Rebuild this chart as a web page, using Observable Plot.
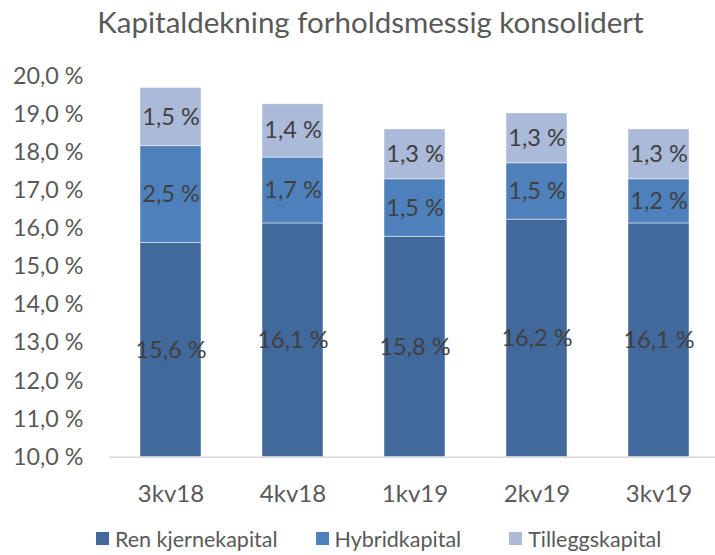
<!DOCTYPE html>
<html>
<head>
<meta charset="utf-8">
<script src="https://cdn.jsdelivr.net/npm/d3@7"></script>
<script src="https://cdn.jsdelivr.net/npm/@observablehq/plot@0.6"></script>
<style>
  html, body { margin: 0; padding: 0; background: #fff; }
  #wrap { width: 715px; height: 555px; overflow: hidden; font-family: Lato, "Open Sans", sans-serif; }
  #title { height: 48px; line-height: 44px; text-align: center; font-size: 29.5px; color: #595959; white-space: nowrap; padding-left: 26px; box-sizing: border-box; }
  #legend { height: 47px; display: flex; align-items: center; font-size: 21.5px; line-height: 24px; color: #595959; padding-left: 96px; padding-top: 14px; box-sizing: border-box; }
  .item { display: flex; align-items: center; }
  .sw { width: 13px; height: 13px; margin-right: 6px; }
</style>
</head>
<body>
<div id="wrap">
  <div id="title">Kapitaldekning forholdsmessig konsolidert</div>
  <div id="chart"></div>
  <div id="legend"></div>
</div>
<script>
const quarters = ["3kv18", "4kv18", "1kv19", "2kv19", "3kv19"];
const series = ["Ren kjernekapital", "Hybridkapital", "Tilleggskapital"];
const renKjernekapital = [15.63, 16.14, 15.79, 16.24, 16.14];
const hybridkapital = [2.54, 1.73, 1.51, 1.48, 1.16];
const tilleggskapital = [1.53, 1.40, 1.31, 1.31, 1.31];
const colors = ["#41699b", "#4e80bc", "#aabad8"];
const yTicks = [10, 11, 12, 13, 14, 15, 16, 17, 18, 19, 20];
const yMin = 10;

const fmt = v => v.toFixed(1).replace(".", ",") + " %";

const rows = [];
quarters.forEach((q, i) => {
  const r = renKjernekapital[i], h = hybridkapital[i], t = tilleggskapital[i];
  rows.push({q, s: series[0], y1: yMin, y2: r, label: fmt(r)});
  rows.push({q, s: series[1], y1: r, y2: r + h, label: fmt(h)});
  rows.push({q, s: series[2], y1: r + h, y2: r + h + t, label: fmt(t)});
});

const chart = Plot.plot({
  width: 715,
  height: 460,
  marginLeft: 109,
  marginRight: 0,
  marginTop: 28,
  marginBottom: 51.3,
  style: {fontFamily: "Lato, 'Open Sans', sans-serif", background: "#fff"},
  x: {domain: quarters, range: [109, 719.5], paddingInner: 0.5, paddingOuter: 0.25, label: null},
  y: {domain: [10, 20], label: null},
  color: {domain: series, range: colors},
  marks: [
    Plot.axisY({ticks: yTicks, tickFormat: fmt, tickSize: 0, tickPadding: 26, fontSize: 23.3, fill: "#595959", anchor: "left"}),
    Plot.axisX({tickSize: 0, tickPadding: 28, fontSize: 24, fill: "#595959"}),
    Plot.barY(rows, {x: "q", y1: "y1", y2: "y2", fill: "s", stroke: "#ffffff", strokeWidth: 0.8, strokeOpacity: 0.6}),
    Plot.ruleY([yMin], {stroke: "#d9d9d9", strokeWidth: 1.5}),
    Plot.text(rows, {x: "q", y: d => (d.y1 + d.y2) / 2, text: "label", fill: "#404040", fontSize: 23.5})
  ]
});
document.getElementById("chart").appendChild(chart);

const legend = document.getElementById("legend");
const gaps = [0, 38, 48];
series.forEach((s, i) => {
  const item = document.createElement("div");
  item.className = "item";
  item.style.marginLeft = gaps[i] + "px";
  const sw = document.createElement("div");
  sw.className = "sw";
  sw.style.background = colors[i];
  const tx = document.createElement("span");
  tx.textContent = s;
  item.appendChild(sw);
  item.appendChild(tx);
  legend.appendChild(item);
});
</script>
</body>
</html>
